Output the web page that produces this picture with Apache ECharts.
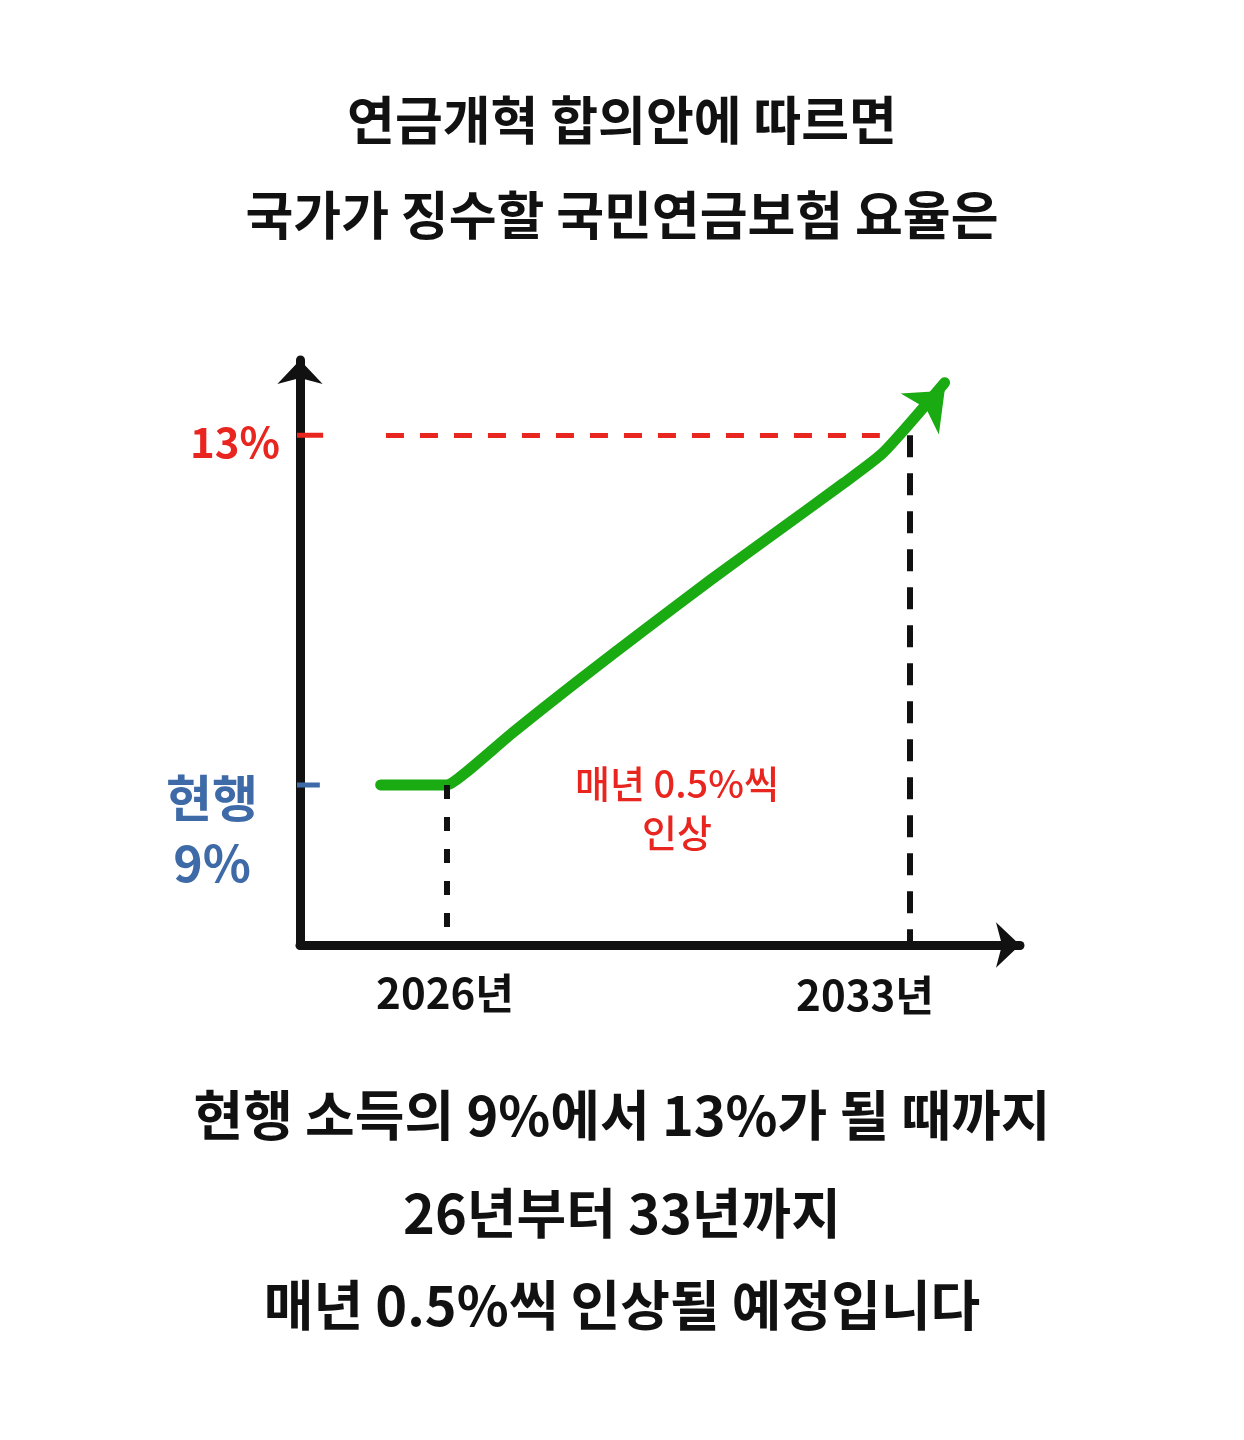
<!DOCTYPE html>
<html><head><meta charset="utf-8">
<script src="https://cdn.jsdelivr.net/npm/echarts@6/dist/echarts.min.js"></script>
<style>html,body{margin:0;background:#fff}#c{width:1244px;height:1440px}</style>
</head><body><div id="c"></div>
<script>
const years = [2025, 2026, 2026.3, 2027, 2028, 2029, 2030, 2031, 2032, 2032.6, 2033.53];
const rates = [9, 9, 9.15, 9.6, 10.2, 10.78, 11.35, 11.9, 12.45, 12.8, 13.6];
const startYear = 2026, endYear = 2033;
const currentRate = 9, targetRate = 13;
const titleLines = ['연금개혁 합의안에 따르면', '국가가 징수할 국민연금보험 요율은'];
const footLines = ['현행 소득의 9%에서 13%가 될 때까지', '26년부터 33년까지', '매년 0.5%씩 인상될 예정입니다'];
const xMin = 2023.78, xMax = 2034.67, yMin = 7.17, yMax = 13.86;
const F = '"Noto Sans CJK KR", sans-serif';
const chart = echarts.init(document.getElementById('c'));
const txt = (x, y, t, size, color, w) => ({type:'text', x:x, y:y, style:{text:t, font:`${w||'bold'} ${size}px ${F}`, fill:color, align:'center', verticalAlign:'middle', lineHeight: size*1.3}});
chart.setOption({
  animation:false,
  grid:{left:300, right:224, top:360, bottom:495},
  xAxis:{type:'value', min:xMin, max:xMax, axisLine:{show:true, lineStyle:{color:'#111', width:9}, symbol:['none','arrow'], symbolSize:[34,24]}, axisTick:{show:false}, axisLabel:{show:false}, splitLine:{show:false}},
  yAxis:{type:'value', min:yMin, max:yMax, axisLine:{show:true, lineStyle:{color:'#111', width:9}, symbol:['none','arrow'], symbolSize:[34,24]}, axisTick:{show:false}, axisLabel:{show:false}, splitLine:{show:false}},
  series:[
    {type:'line', data:[], markLine:{silent:true, symbol:'none', label:{show:false}, data:[
      [{coord:[xMin+1.3, targetRate], lineStyle:{color:'#e8251f', type:[18,16], width:5}}, {coord:[endYear-0.45, targetRate]}],
      [{coord:[startYear, currentRate], lineStyle:{color:'#111', type:[14,18], width:6}}, {coord:[startYear, yMin]}],
      [{coord:[endYear, targetRate], lineStyle:{color:'#111', type:[22,16], width:6}}, {coord:[endYear, yMin]}]
    ]}},
    {type:'line', clip:false, symbol:'none', lineStyle:{color:'#e8251f', width:5}, data:[[xMin-0.3, targetRate],[xMin+0.35, targetRate]]},
    {type:'line', clip:false, symbol:'none', lineStyle:{color:'#3f6aa8', width:5}, data:[[xMin-0.25, currentRate],[xMin+0.3, currentRate]]},
    {type:'line', symbol:'none', smooth:0.2, lineStyle:{color:'#1aaa12', width:11, cap:'round', join:'round'},
     data: years.map((y,i)=>[y, rates[i]]),
     markPoint:{symbol:'arrow', symbolSize:[42,34], symbolRotate:-47, symbolOffset:[0,8], itemStyle:{color:'#1aaa12'}, label:{show:false},
       data:[{coord:[years[years.length-1], rates[rates.length-1]]}]}}
  ],
  graphic:[
    txt(622,120,titleLines[0],52,'#111'), txt(622,215,titleLines[1],52,'#111'),
    txt(235,442,'13%',42,'#e8251f'),
    txt(212,830,'현행\n9%',50,'#3f6aa8'),
    txt(445,993,'2026년',42,'#111'), txt(865,995,'2033년',42,'#111'),
    txt(677,808,'매년 0.5%씩\n인상',38,'#e8251f','500'),
    txt(622,1115,footLines[0],54,'#111'), txt(622,1213,footLines[1],54,'#111'), txt(622,1305,footLines[2],54,'#111')
  ]
});
</script></body></html>
